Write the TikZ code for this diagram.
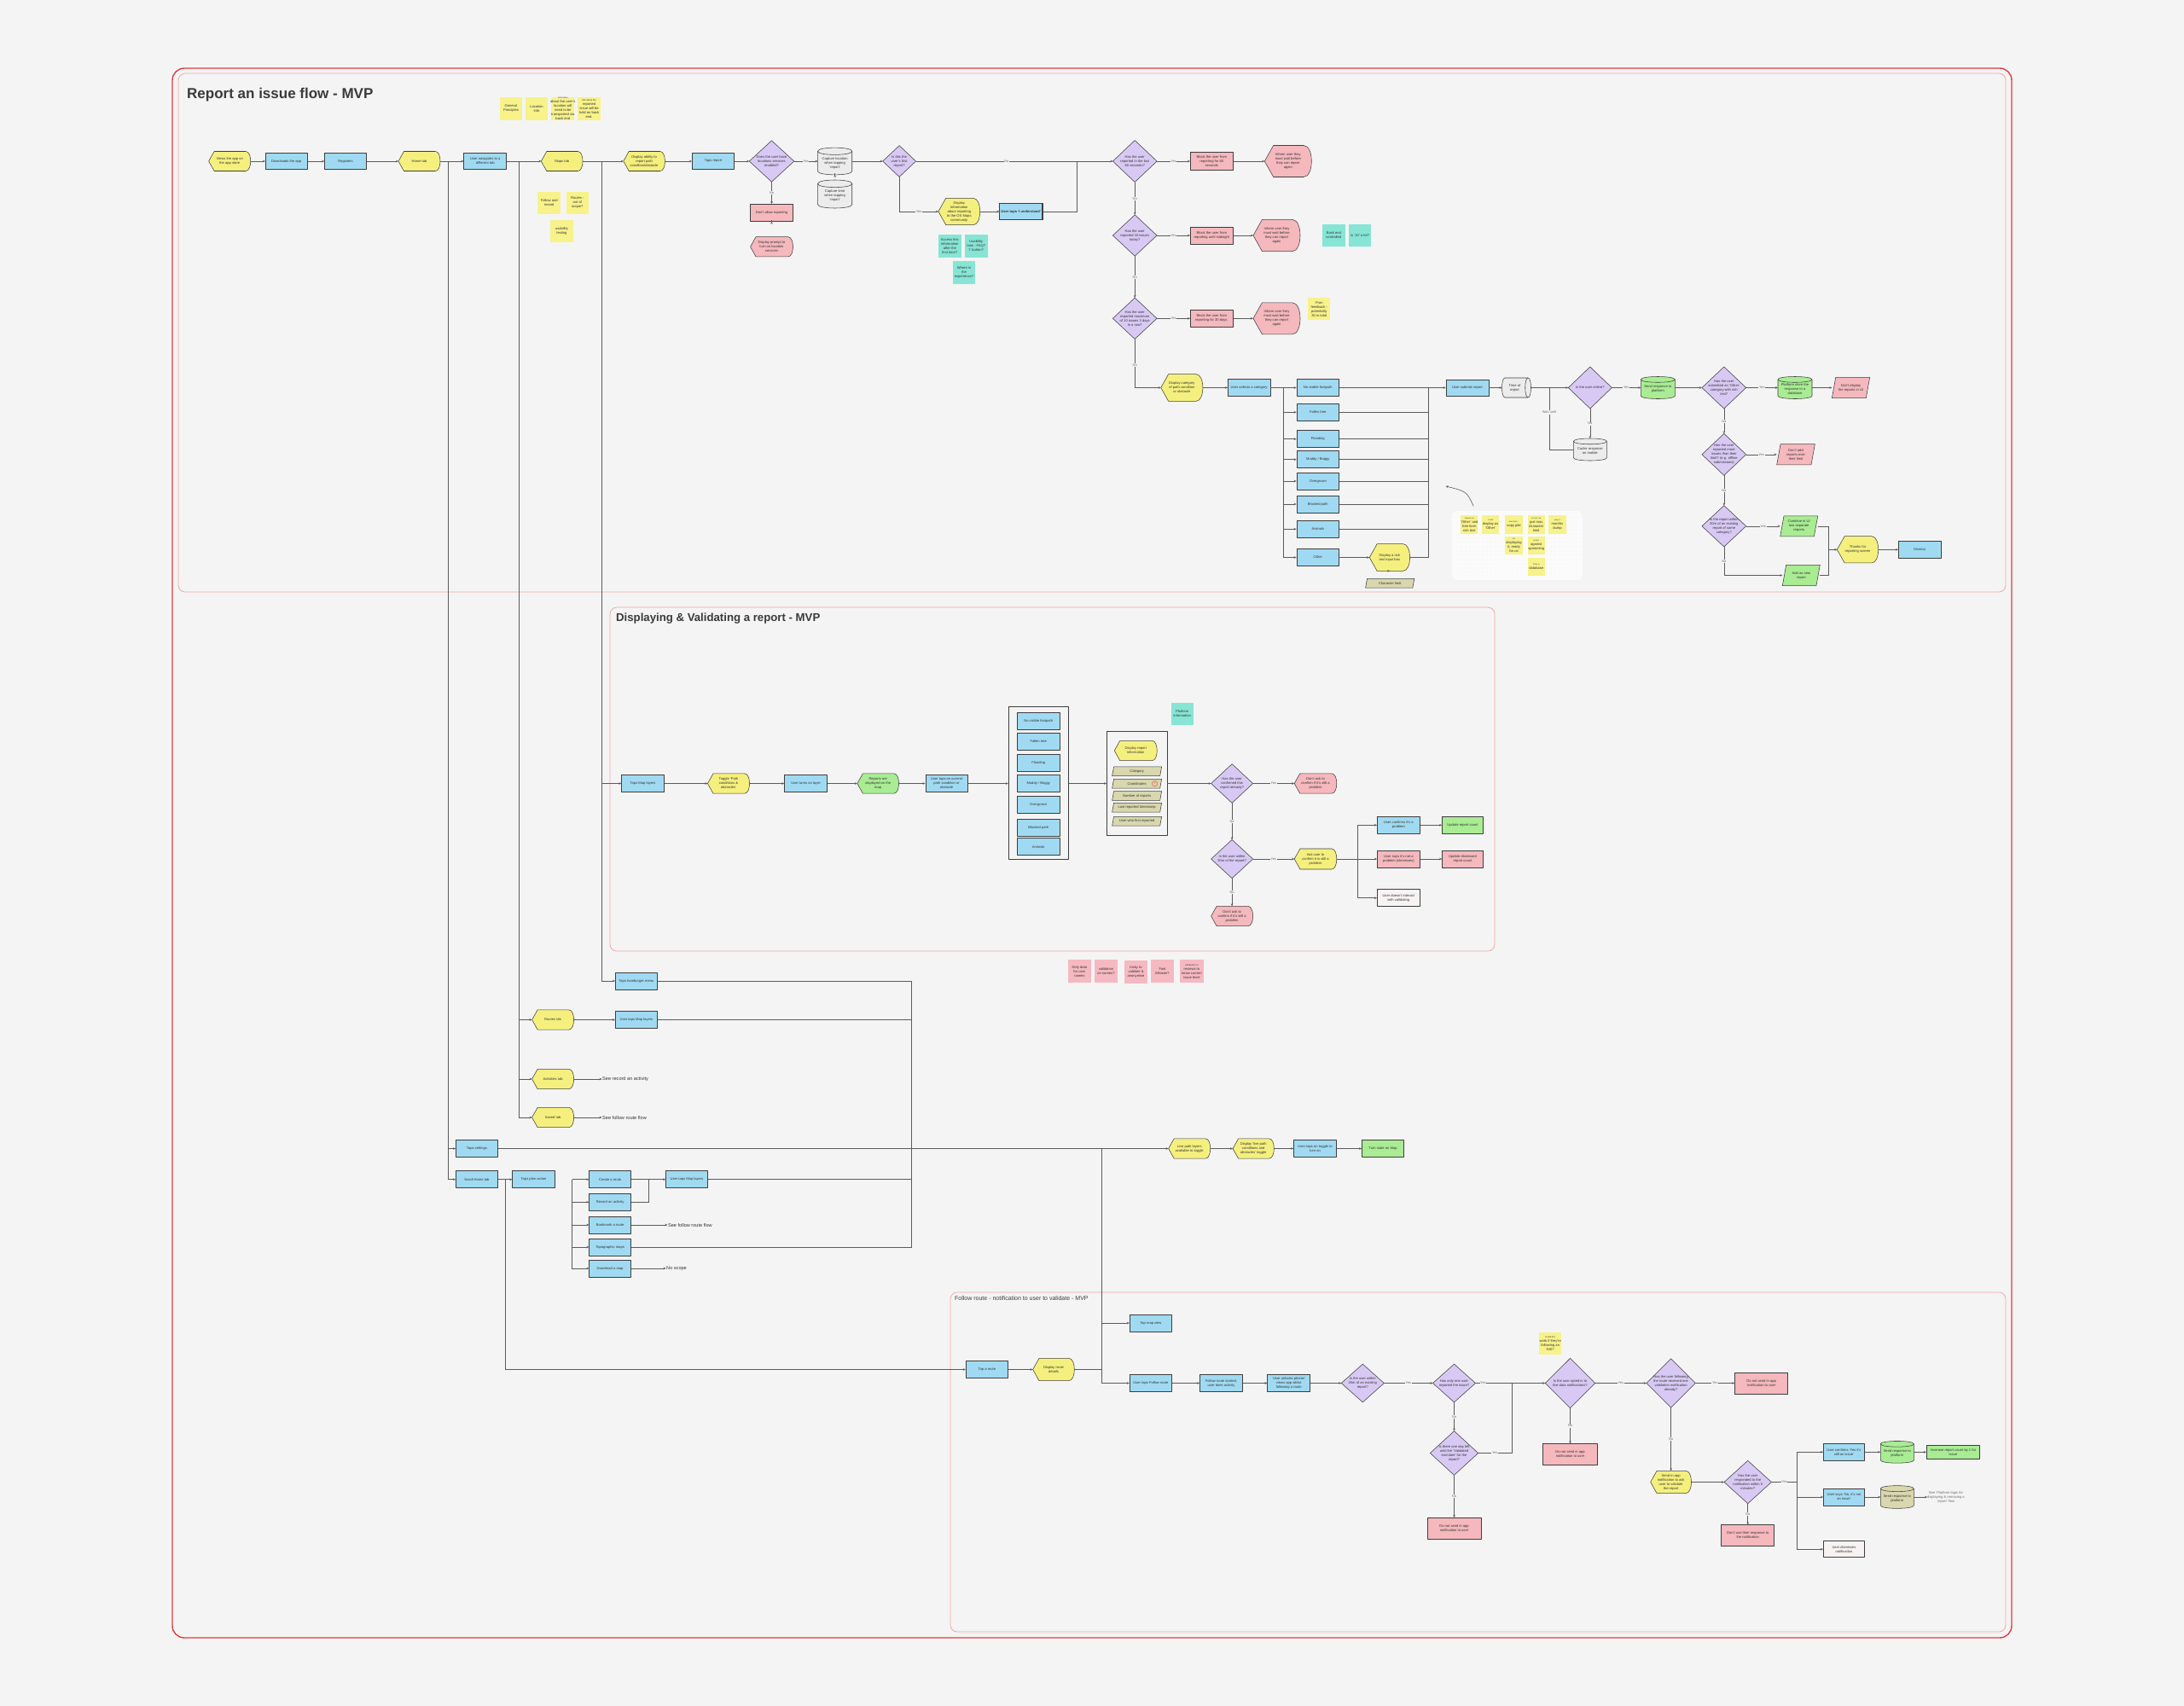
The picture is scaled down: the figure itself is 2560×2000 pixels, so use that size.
\documentclass[tikz,border=0pt]{standalone}
\usepackage{fontspec}
\setmainfont{Liberation Sans}
\usetikzlibrary{arrows.meta}
\hyphenpenalty=10000
\definecolor{bgc}{HTML}{F4F4F4}
\definecolor{bl}{HTML}{A0DAF2}
\definecolor{ye}{HTML}{F5F07E}
\definecolor{pu}{HTML}{D8C9F4}
\definecolor{pk}{HTML}{F5B8BD}
\definecolor{gr}{HTML}{A9EC93}
\definecolor{ol}{HTML}{D8D7AD}
\definecolor{te}{HTML}{86E5D5}
\definecolor{sty}{HTML}{F7F28A}
\definecolor{stp}{HTML}{F6B9C1}
\definecolor{gy}{HTML}{ECECEC}
\definecolor{wh}{HTML}{F7F3F3}
\definecolor{sc}{HTML}{3E3E3E}
\definecolor{lc}{HTML}{5A5A5A}
\definecolor{txc}{HTML}{333333}
\definecolor{labc}{HTML}{707070}
\definecolor{redc}{HTML}{E63B3E}
\definecolor{pinkf}{HTML}{F2A6AA}
\definecolor{titc}{HTML}{3A3A3A}
\tikzset{
  outl/.style={draw=sc, line width=0.55pt, line join=round},
  anch/.style={rectangle, draw=none, fill=none, inner sep=0pt, outer sep=0pt},
  txt/.style={font=\fontsize{4.1}{5}\selectfont, text=txc, align=center, inner sep=0pt},
  ln/.style={draw=lc, line width=0.6pt, -{Stealth[length=3pt,width=2.6pt]}},
  lnn/.style={draw=lc, line width=0.6pt},
  lab/.style={font=\fontsize{4}{4.5}\selectfont, text=labc, fill=bgc, inner sep=0.6pt},
  side/.style={font=\fontsize{5.6}{6.5}\selectfont, text=txc, anchor=west, inner sep=0.5pt},
  frame/.style={draw=pinkf, line width=0.8pt, rounded corners=8pt},
}
\newcommand\mkRect[6]{%
  \node[rectangle, outl, fill=#1, inner sep=0pt, minimum width=#4pt, minimum height=#5pt] (#2) at (#3) {};
  \node[txt] (#2-t) at (#3) {#6};}
\newcommand\mkNote[6]{%
  \node[rectangle, fill=#1, inner sep=0pt, minimum width=#4pt, minimum height=#5pt] (#2) at (#3) {};
  \node[txt] (#2-t) at (#3) {#6};}
\newcommand\mkDisp[6]{%
  \filldraw[outl, fill=#1, shift={(#3)}] (-#4/2,0) -- (-#4/2+0.28*#5,-#5/2) -- (#4/2-0.25*#5,-#5/2) .. controls (#4/2+0.0833*#5,-#5/2) and (#4/2+0.0833*#5,#5/2) .. (#4/2-0.25*#5,#5/2) -- (-#4/2+0.28*#5,#5/2) -- cycle;
  \node[anch, minimum width=#4pt, minimum height=#5pt] (#2) at (#3) {};
  \node[txt] (#2-t) at (#3) {#6};}
\newcommand\mkDia[6]{%
  \filldraw[outl, fill=#1, shift={(#3)}] (-#4/2,0) -- (0,-#5/2) -- (#4/2,0) -- (0,#5/2) -- cycle;
  \node[anch, minimum width=#4pt, minimum height=#5pt] (#2) at (#3) {};
  \node[txt] (#2-t) at (#3) {#6};}
\newcommand\mkCyl[6]{%
  \filldraw[outl, fill=#1, shift={(#3)}] (-#4/2,-0.37*#5) -- (-#4/2,0.37*#5) .. controls (-#4/2,0.5433*#5) and (#4/2,0.5433*#5) .. (#4/2,0.37*#5) -- (#4/2,-0.37*#5) .. controls (#4/2,-0.5433*#5) and (-#4/2,-0.5433*#5) .. (-#4/2,-0.37*#5) -- cycle;
  \draw[outl, shift={(#3)}] (-#4/2,-0.37*#5) .. controls (-#4/2,-0.1967*#5) and (#4/2,-0.1967*#5) .. (#4/2,-0.37*#5);
  \node[anch, minimum width=#4pt, minimum height=#5pt] (#2) at (#3) {};
  \node[txt, yshift={-0.07*#5pt}] (#2-t) at (#3) {#6};}
\newcommand\mkHCyl[6]{%
  \filldraw[outl, fill=#1, shift={(#3)}] (-0.4*#4,-#5/2) -- (0.4*#4,-#5/2) .. controls (0.5333*#4,-#5/2) and (0.5333*#4,#5/2) .. (0.4*#4,#5/2) -- (-0.4*#4,#5/2) .. controls (-0.5333*#4,#5/2) and (-0.5333*#4,-#5/2) .. (-0.4*#4,-#5/2) -- cycle;
  \draw[outl, shift={(#3)}] (0.4*#4,-#5/2) .. controls (0.2667*#4,-#5/2) and (0.2667*#4,#5/2) .. (0.4*#4,#5/2);
  \node[anch, minimum width=#4pt, minimum height=#5pt] (#2) at (#3) {};
  \node[txt, xshift={-0.06*#4pt}] (#2-t) at (#3) {#6};}
\newcommand\mkPara[6]{%
  \filldraw[outl, fill=#1, shift={(#3)}] (-#4/2+0.18*#5,-#5/2) -- (#4/2,-#5/2) -- (#4/2-0.18*#5,#5/2) -- (-#4/2,#5/2) -- cycle;
  \node[anch, minimum width=#4pt, minimum height=#5pt] (#2) at (#3) {};
  \node[txt] (#2-t) at (#3) {#6};}
\newcommand\hcon[2]{\draw[ln] (#1.east) -- (#1.east -| #2.west);}
\newcommand\vcon[2]{\draw[ln] (#1.south) -- (#1.south -| #2.north);}
\begin{document}
\begin{tikzpicture}[x=1pt,y=-1pt]
\useasboundingbox (0,0) rectangle (2560,2000);
\fill[bgc] (0,0) rectangle (2560,2000);
\draw[draw=redc, line width=1.4pt, rounded corners=14pt] (202,80) rectangle (2358,1920);
\draw[frame] (209,86) rectangle (2351,694);
\draw[frame] (715,712) rectangle (1752,1115);
\draw[frame] (1114,1515) rectangle (2351,1913);
\node[anchor=west, font=\bfseries\fontsize{17}{19}\selectfont, text=titc, inner sep=0pt] (title1) at (219,111) {Report an issue flow - MVP};
\node[anchor=west, font=\bfseries\fontsize{13.2}{15}\selectfont, text=titc, inner sep=0pt] (title2) at (722,725) {Displaying \& Validating a report - MVP};
\node[anchor=west, font=\fontsize{7}{8}\selectfont, text=titc, inner sep=0pt] (title3) at (1119,1522) {Follow route - notification to user to validate - MVP};

% ---------- sticky notes, section 1
\mkNote{sty}{s1}{599,127.3}{26}{26.7}{General\\Principles}
\mkNote{sty}{s2}{629,127.3}{26}{26.7}{Location\\Info}
\mkNote{sty}{s3}{659.8,127.3}{26.8}{26.7}{\fontsize{2.3}{2.8}\selectfont Information\\about the user's\\location will\\need to be\\transported via\\back end}
\mkNote{sty}{s4}{690.6,127.3}{26.8}{26.7}{\fontsize{2.7}{3.3}\selectfont Info about the\\reported\\issue will be\\held on back\\end.}
\mkNote{sty}{s5}{643.7,238}{26.6}{26}{Follow and\\record}
\mkNote{sty}{s6}{676.8,238}{26.6}{26}{Routes -\\out of\\scope?}
\mkNote{sty}{s7}{658.4,271}{26.6}{26}{usability\\testing}
\mkNote{te}{t1}{1113.3,288.3}{26.7}{26.7}{Access this\\information\\after the\\first time?}
\mkNote{te}{t2}{1144.2,288.3}{26.7}{26.7}{Usability\\task - FAQ?\\`i' button?}
\mkNote{te}{t3}{1130,319.3}{26.7}{26.7}{Where in\\the\\experience?}
\mkNote{te}{t4}{1563.3,275.7}{26.7}{26}{Back end\\controlled}
\mkNote{te}{t5}{1594,275.7}{26.7}{26}{Is `10' a lot?}
\mkNote{sty}{s8}{1546.3,362.3}{26}{26}{Fran\\feedback -\\potentially\\30 in total}

% panel with dots
\fill[white!60!bgc, rounded corners=6pt] (1701.6,599) rectangle (1855,680);
\begin{scope}
\clip[rounded corners=6pt] (1701.6,599) rectangle (1855,680);
\foreach \i in {0,...,30}{\foreach \j in {0,...,16}{\fill[black!12] (1703+5*\i,601+5*\j) circle (0.3pt);}}
\end{scope}
\mkNote{sty}{p1}{1722.3,615}{20.3}{21.3}{\fontsize{2.2}{2.7}\selectfont Capture an\\`Other' and\\free form\\rich text}
\mkNote{sty}{p2}{1747.2,615}{20.3}{21.3}{\fontsize{2.2}{2.7}\selectfont Could\\display as\\`Other'}
\mkNote{sty}{p3}{1774.5,615}{20.3}{21.3}{\fontsize{2.2}{2.7}\selectfont other-form...\\copy pile}
\mkNote{sty}{p4}{1800.7,615}{20.3}{21.3}{\fontsize{2.2}{2.7}\selectfont not text, we\\just max\\character\\limit}
\mkNote{sty}{p5}{1825.4,615}{20.3}{21.3}{\fontsize{2.2}{2.7}\selectfont every 3\\months\\dump}
\mkNote{sty}{p6}{1774.5,639.7}{20.3}{21.3}{\fontsize{2.2}{2.7}\selectfont not\\displaying\\it, ready\\for us}
\mkNote{sty}{p7}{1800.7,639.7}{20.3}{21.3}{\fontsize{2.2}{2.7}\selectfont protect\\against\\spamming}
\mkNote{sty}{p8}{1800.7,664.7}{20.3}{21.3}{\fontsize{2.2}{2.7}\selectfont Store in\\database}
\coordinate (pc1) at (1727.2,593.3);
\coordinate (pc2) at (1694.6,570);
\draw[ln] (pc1) .. controls (1719,576) .. (pc2);

% ---------- section 1 nodes
\mkDisp{ye}{n1}{269.2,189}{49.1}{23}{Views the app on\\the app store}
\mkRect{bl}{n2}{335.7,189}{49.1}{19.3}{Downloads the app}
\mkRect{bl}{n3}{405,189}{49}{19.3}{Registers}
\mkDisp{ye}{n4}{491.5,189}{49}{23}{Home tab}
\mkRect{bl}{n5}{568.75,189}{50}{19.3}{User navigates to a\\different tab}
\mkDisp{ye}{n6}{658.7,189}{48.7}{23}{Maps tab}
\mkDisp{ye}{n7}{755.1,189}{48.7}{23}{Display ability to\\report path\\condition/obstacle}
\mkRect{bl}{n8}{836,189}{49.5}{19.3}{Taps report}
\mkDia{pu}{dLoc}{904.5,189}{52.5}{48.3}{Does the user have\\locations services\\enabled?}
\mkCyl{gy}{cLoc}{978.6,189}{40.3}{31.7}{Capture location\\when tapping\\`report'}
\mkCyl{gy}{cTime}{978.6,227.5}{40.3}{33}{Capture time\\when tapping\\`report'}
\mkRect{pk}{noRep}{904.5,249.3}{50}{20}{Don't allow reporting}
\mkDisp{pk}{prompt}{904.5,289.3}{50}{23.3}{Display prompt to\\turn on location\\services}
\mkDia{pu}{dFirst}{1054.1,189}{38.8}{36.7}{Is this the\\user's first\\report?}
\mkDisp{ye}{info}{1124.3,248}{48.7}{31.3}{Display\\information\\about reporting\\to the OS Maps\\community}
\mkRect{bl}{understand}{1196.7,248}{50}{19.3}{\bfseries User taps `I understand'}
\draw[sc, line width=1.1pt] (understand.north west) rectangle (understand.south east);
\mkDia{pu}{d60}{1330.2,189}{51.7}{49}{Has the user\\reported in the last\\60 seconds?}
\mkRect{pk}{b60}{1420.3,189}{50}{20.7}{Block the user from\\reporting for 60\\seconds}
\mkDisp{pk}{inf1}{1509.8,189}{55}{37}{Inform user they\\must wait before\\they can report\\again}
\mkDia{pu}{d10}{1330.2,276}{51.7}{48.3}{Has the user\\reported 10 issues\\today?}
\mkRect{pk}{bMid}{1420.3,276}{50}{20}{Block the user from\\reporting until midnight}
\mkDisp{pk}{inf2}{1496.5,276}{55}{37.3}{Inform user they\\must wait before\\they can report\\again}
\mkDia{pu}{d3}{1330.2,373.3}{51.7}{48.3}{Has the user\\reported maximum\\of 10 issues 3 days\\in a row?}
\mkRect{pk}{b30}{1420.3,373.3}{50}{20}{Block the user from\\reporting for 30 days.}
\mkDisp{pk}{inf3}{1496.5,373.3}{55}{37}{Inform user they\\must wait before\\they can report\\again}
\mkDisp{ye}{cat}{1385.3,454.5}{49.1}{31.7}{Display category\\of path condition\\or obstacle}
\mkRect{bl}{sel}{1464.1,454.5}{49.8}{20}{User selects a category}
\mkRect{bl}{c1}{1544.8,454.5}{49.8}{20}{No visible footpath}
\mkRect{bl}{c2}{1544.8,483.3}{49.8}{20}{Fallen tree}
\mkRect{bl}{c3}{1544.8,514.7}{49.8}{20}{Flooding}
\mkRect{bl}{c4}{1544.8,538.7}{49.8}{20}{Muddy / Boggy}
\mkRect{bl}{c5}{1544.8,564}{49.8}{20}{Overgrown}
\mkRect{bl}{c6}{1544.8,591}{49.8}{20}{Blocked path}
\mkRect{bl}{c7}{1544.8,620.3}{49.8}{20}{Animals}
\mkRect{bl}{c8}{1544.8,653.5}{49.8}{20}{Other}
\mkDisp{ye}{rich}{1628.9,653.5}{47.3}{31.7}{Display a rich\\text input box}
\mkPara{ol}{charlim}{1629.2,683.7}{57.2}{10.7}{Character limit}
\mkRect{bl}{submit}{1719.9,454.5}{49.8}{19.3}{User submits report}
\mkHCyl{gy}{time}{1777.5,454.5}{34}{23}{Time of\\report}
\mkDia{pu}{dOnline}{1863.8,454.5}{51}{49}{Is the user online?}
\mkCyl{gy}{cache}{1863.8,527}{39}{26}{Cache response\\on mobile}
\mkCyl{gr}{send}{1943.3,454.5}{40}{26}{Send response to\\platform}
\mkDia{pu}{dOther}{2020.8,454.5}{51.7}{49}{Has the user\\submitted an `Other'\\category with rich\\text?}
\mkCyl{gr}{store}{2104,454.5}{40}{26}{Platform store the\\response in a\\database}
\mkPara{pk}{noDisp}{2169.5,454.5}{44.3}{24.3}{Don't display\\the reports in UI}
\mkDia{pu}{dLimit}{2020.8,532.8}{51.7}{49}{Has the user\\reported more\\issues than their\\limit? (e.g. offline\\submissions)}
\mkPara{pk}{noAdd}{2105,532.8}{44.7}{24.3}{Don't add\\reports over\\their limit}
\mkDia{pu}{d20}{2020.8,616.8}{51.7}{48.3}{Is the report within\\20m of an existing\\report of same\\category?}
\mkPara{gr}{combine}{2108.7,616.8}{44}{24}{Combine in UI\\two separate\\reports}
\mkPara{gr}{addNew}{2111.3,674.5}{44}{24.3}{Add as new\\report}
\mkDisp{ye}{thanks}{2177.5,644.3}{48.3}{31.3}{Thanks for\\reporting screen}
\mkRect{bl}{dismiss}{2250.2,644.3}{49.7}{20}{Dismiss}

% ---------- section 1 connectors
\hcon{n1}{n2}
\hcon{n2}{n3}
\hcon{n3}{n4}
\hcon{n4}{n5}
\hcon{n5}{n6}
\hcon{n6}{n7}
\hcon{n7}{n8}
\hcon{n8}{dLoc}
\draw[ln] (dLoc.east) -- node[lab] (L1) {Yes} (dLoc.east -| cLoc.west);
\draw[ln] (dLoc.south) -- node[lab] (L2) {No} (dLoc.south |- noRep.north);
\vcon{noRep}{prompt}
\vcon{cLoc}{cTime}
\hcon{cLoc}{dFirst}
\draw[ln] (dFirst.east) -- node[lab, pos=0.46] (L3) {No} (dFirst.east -| d60.west);
\draw[ln] (dFirst.south) |- node[lab, pos=0.75] (L4) {Yes} (info.west);
\hcon{info}{understand}
\coordinate (jU) at (1262.7,189);
\draw[lnn] (understand.east) -| (jU);
\draw[ln] (d60.east) -- node[lab] (L5) {Yes} (d60.east -| b60.west);
\hcon{b60}{inf1}
\draw[ln] (d60.south) -- node[lab] (L6) {No} (d60.south |- d10.north);
\draw[ln] (d10.east) -- node[lab] (L7) {Yes} (d10.east -| bMid.west);
\hcon{bMid}{inf2}
\draw[ln] (d10.south) -- node[lab] (L8) {No} (d10.south |- d3.north);
\draw[ln] (d3.east) -- node[lab] (L9) {Yes} (d3.east -| b30.west);
\hcon{b30}{inf3}
\draw[ln] (d3.south) |- node[lab, pos=0.27] (L10) {No} (cat.west);
\hcon{cat}{sel}
\coordinate (jSel) at (1504.5,454.5);
\draw[lnn] (sel.east) -- (jSel);
\foreach \c in {c1,c2,c3,c4,c5,c6,c7,c8}{\draw[ln] (jSel) |- (\c.west);}
\coordinate (mTop) at (1674.3,454.5);
\coordinate (mBot) at (1674.3,653.5);
\foreach \c in {c1,c2,c3,c4,c5,c6,c7}{\draw[lnn] (\c.east) -- (\c.east -| mTop);}
\hcon{c8}{rich}
\draw[lnn] (rich.east) -- (mBot) -- (mTop);
\draw[ln] (mTop) -- (submit.west);
\vcon{rich}{charlim}
\hcon{submit}{time}
\hcon{time}{dOnline}
\draw[ln] (dOnline.east) -- node[lab] (L11) {Yes} (dOnline.east -| send.west);
\draw[ln] (dOnline.south) -- node[lab] (L12) {No} (dOnline.south |- cache.north);
\coordinate (jWait) at (1816,454.5);
\draw[lnn] (cache.west) -| node[lab, pos=0.8] (L13) {Wait until} (jWait);
\hcon{send}{dOther}
\draw[ln] (dOther.east) -- node[lab] (L14) {Yes} (dOther.east -| store.west);
\hcon{store}{noDisp}
\draw[ln] (dOther.south) -- node[lab] (L15) {No} (dOther.south |- dLimit.north);
\draw[ln] (dLimit.east) -- node[lab] (L16) {Yes} (dLimit.east -| noAdd.west);
\draw[ln] (dLimit.south) -- node[lab] (L17) {No} (dLimit.south |- d20.north);
\draw[ln] (d20.east) -- node[lab] (L18) {Yes} (d20.east -| combine.west);
\draw[ln] (d20.south) |- node[lab, pos=0.25] (L19) {No} (addNew.west);
\coordinate (jThanks) at (2143,644.3);
\draw[lnn] (combine.east) -| (jThanks);
\draw[lnn] (addNew.east) -| (jThanks);
\draw[ln] (jThanks) -- (thanks.west);
\hcon{thanks}{dismiss}

% ---------- section 2
\mkRect{bl}{mapLayers}{753.6,918.5}{50}{20}{Taps Map layers}
\mkDisp{ye}{toggle}{854,918.5}{49.1}{23.3}{Toggle `Path\\conditions \&\\obstacles'}
\mkRect{bl}{turnOn}{944.6,918.5}{50}{20}{User turns on layer}
\mkDisp{gr}{displayed}{1029.2,918.5}{48.7}{23.3}{Reports are\\displayed on the\\map}
\mkRect{bl}{tapsCurrent}{1109.6,918.5}{49.6}{20}{User taps on current\\path condition or\\obstacle}
\node[rectangle, outl, inner sep=0pt, minimum width=70.6pt, minimum height=179.4pt] (cont1) at (1217.4,918) {};
\mkRect{bl}{k1}{1217.2,845}{50.4}{20}{No visible footpath}
\mkRect{bl}{k2}{1217.2,869.3}{50.4}{20}{Fallen tree}
\mkRect{bl}{k3}{1217.2,894}{50.4}{20}{Flooding}
\mkRect{bl}{k4}{1217.2,918.3}{50.4}{20}{Muddy / Boggy}
\mkRect{bl}{k5}{1217.2,943.7}{50.4}{20}{Overgrown}
\mkRect{bl}{k6}{1217.2,970}{50.4}{20}{Blocked path}
\mkRect{bl}{k7}{1217.2,992.7}{50.4}{20}{Animals}
\node[rectangle, outl, inner sep=0pt, minimum width=70.7pt, minimum height=122.4pt] (cont2) at (1332.75,918.5) {};
\mkDisp{ye}{repInfo}{1331.25,880}{50}{23.3}{Display report\\information}
\mkPara{ol}{i1}{1332.6,904.3}{58}{10.7}{Category}
\mkPara{ol}{i2}{1332.6,918.7}{58}{10.7}{Coordinates}
\mkPara{ol}{i3}{1332.6,933}{58}{10.7}{Number of reports}
\mkPara{ol}{i4}{1332.6,946.7}{58}{10.7}{Last reported timestamp}
\mkPara{ol}{i5}{1332.6,962.8}{58}{10.7}{User who first reported}
\draw[draw=redc!80, line width=0.6pt] (1353.6,918.7) circle (3.2pt);
\node[font=\fontsize{4.5}{5}\selectfont, text=redc!80, inner sep=0pt] (qm) at (1353.6,918.9) {?};
\mkNote{te}{platInfo}{1385.7,837}{26.4}{26}{Platform\\information}
\mkDia{pu}{dConf}{1444.1,918.5}{49}{45.7}{Has the user\\confirmed this\\report already?}
\mkDisp{pk}{dontAsk1}{1542,918.5}{49.6}{23.3}{Don't ask to\\confirm if it's still a\\problem}
\mkDia{pu}{d30}{1444.1,1007}{49}{45.3}{Is the user within\\30m of the report?}
\mkDisp{ye}{ask}{1542,1007}{49.6}{24}{Ask user to\\confirm it is still a\\problem}
\mkDisp{pk}{dontAsk2}{1444.1,1074}{49}{23.3}{Don't ask to\\confirm if it's still a\\problem}
\mkRect{bl}{confirms}{1639.3,967.3}{50}{20}{User confirms it's a\\problem}
\mkRect{gr}{updCount}{1714.5,967.3}{48.2}{20}{Update report count}
\mkRect{pk}{saysNot}{1639.3,1007}{50}{20}{User says it's not a\\problem (dismisses)}
\mkRect{pk}{updDis}{1714.5,1007}{48.2}{20}{Update dismissed\\report count}
\mkRect{wh}{noInteract}{1639.3,1052.7}{50}{20}{User doesn't interact\\with validating}

\hcon{mapLayers}{toggle}
\hcon{toggle}{turnOn}
\hcon{turnOn}{displayed}
\hcon{displayed}{tapsCurrent}
\hcon{tapsCurrent}{cont1}
\draw[ln] (cont1.east |- cont2.west) -- (cont2.west);
\hcon{cont2}{dConf}
\draw[ln] (dConf.east) -- node[lab] (L20) {Yes} (dConf.east -| dontAsk1.west);
\draw[ln] (dConf.south) -- node[lab] (L21) {No} (dConf.south |- d30.north);
\draw[ln] (d30.east) -- node[lab] (L22) {Yes} (d30.east -| ask.west);
\draw[ln] (d30.south) -- node[lab] (L23) {No} (d30.south |- dontAsk2.north);
\coordinate (jAsk) at (1591.1,1007);
\draw[lnn] (ask.east) -- (jAsk);
\draw[ln] (jAsk) |- (confirms.west);
\draw[ln] (jAsk) -- (saysNot.west);
\draw[ln] (jAsk) |- (noInteract.west);
\hcon{confirms}{updCount}
\hcon{saysNot}{updDis}

% pink stickies
\mkNote{stp}{q1}{1265.4,1138.7}{27.2}{27.3}{Dirty data\\for user\\names}
\mkNote{stp}{q2}{1296.4,1138.7}{27.2}{27.3}{validation\\on names?}
\mkNote{stp}{q3}{1331.5,1139.7}{27.2}{27.3}{tricky to\\validate \&\\anonymise}
\mkNote{stp}{q4}{1362.5,1138.7}{27.2}{27.3}{Fast\\follower?}
\mkNote{stp}{q5}{1396.9,1138.7}{27.2}{27.3}{\fontsize{2.6}{3.2}\selectfont Attribution on\\reviews to\\know current\\issue level}

% ---------- lower left
\mkRect{bl}{hamburger}{745.9,1150}{49.4}{20}{Taps hamburger menu}
\mkDisp{ye}{routesTab}{648.1,1195.5}{49}{23.3}{Routes tab}
\mkRect{bl}{mapLayers2}{745.9,1195.5}{49.4}{20}{User taps Map layers}
\mkDisp{ye}{actTab}{648.1,1265}{49}{23.3}{Activities tab}
\node[side] (seeRec) at (705.5,1265) {See record an activity};
\mkDisp{ye}{savedTab}{648.1,1310}{49}{23.3}{Saved tab}
\node[side] (seeFollow1) at (705.5,1310) {See follow route flow};
\mkRect{bl}{settings}{558.9,1346.5}{49}{20}{Taps settings}
\mkRect{bl}{scroll}{558.9,1382.7}{49}{20}{Scroll Home tab}
\mkRect{bl}{plan}{625.5,1382.7}{49.8}{20}{Taps plan action}
\mkRect{bl}{create}{715.1,1382.7}{49}{20}{Create a route}
\mkRect{bl}{record}{715.1,1409.3}{49}{20}{Record an activity}
\mkRect{bl}{bookmark}{715.1,1436}{49}{20}{Bookmark a route}
\mkRect{bl}{topo}{715.1,1462}{49}{20}{Topographic maps}
\mkRect{bl}{download}{715.1,1487}{49}{20}{Download a map}
\mkRect{bl}{mapLayers3}{805,1382.7}{49}{20}{User taps Map layers}
\node[side] (seeFollow2) at (782.4,1436) {See follow route flow};
\node[side] (noScope) at (780.5,1487) {No scope};
\mkDisp{ye}{live}{1394.2,1346.5}{49.1}{23.3}{Live path layers\\available to toggle}
\mkDisp{ye}{liveToggle}{1469.2,1346.5}{48.3}{23.3}{Display `live path\\conditions and\\obstacles' toggle}
\mkRect{bl}{tapToggle}{1541.5,1346.5}{50}{20}{User taps on toggle to\\turn on}
\mkRect{gr}{turnState}{1621,1346.5}{49.1}{20}{Turn state on Map}

\coordinate (jHome) at (525,189);
\draw[ln] (jHome) |- (settings.west);
\draw[ln] (jHome) |- (scroll.west);
\coordinate (jUser) at (608.5,189);
\draw[ln] (jUser) |- (routesTab.west);
\draw[ln] (jUser) |- (actTab.west);
\draw[ln] (jUser) |- (savedTab.west);
\coordinate (jMaps) at (705.4,189);
\draw[ln] (jMaps) |- (mapLayers.west);
\draw[ln] (jMaps) |- (hamburger.west);
\coordinate (jR) at (1068.3,1346.5);
\draw[lnn] (hamburger.east) -| (jR);
\draw[lnn] (mapLayers2.east) -- (mapLayers2.east -| jR);
\draw[lnn] (mapLayers3.east) -- (mapLayers3.east -| jR);
\draw[lnn] (topo.east) -| (jR);
\hcon{routesTab}{mapLayers2}
\draw[ln] (actTab.east) -- (seeRec.west);
\draw[ln] (savedTab.east) -- (seeFollow1.west);
\draw[ln] (settings.east) -- (settings.east -| live.west);
\hcon{scroll}{plan}
\coordinate (jScroll) at (591.8,1382.7);
\coordinate (jPlan) at (670.7,1382.7);
\draw[ln] (jPlan) -- (create.west);
\draw[ln] (jPlan) |- (record.west);
\draw[ln] (jPlan) |- (bookmark.west);
\draw[ln] (jPlan) |- (topo.west);
\draw[ln] (jPlan) |- (download.west);
\hcon{create}{mapLayers3}
\coordinate (jRec) at (760.2,1382.7);
\draw[lnn] (record.east) -| (jRec);
\draw[ln] (bookmark.east) -- (seeFollow2.west);
\draw[ln] (download.east) -- (noScope.west);
\hcon{live}{liveToggle}
\hcon{liveToggle}{tapToggle}
\hcon{tapToggle}{turnState}

% ---------- section 3
\mkRect{bl}{tapRoute}{1156.9,1605.5}{49.6}{20}{Tap a route}
\mkDisp{ye}{routeDet}{1235,1605.5}{48.7}{26.3}{Display route\\details}
\mkRect{bl}{mapView}{1348.9,1551}{49.6}{20}{Tap map view}
\mkRect{bl}{follow}{1348.9,1621.5}{49.6}{20}{User taps Follow route}
\mkRect{bl}{started}{1431.5,1621.5}{50.4}{20}{Follow route started,\\user does activity}
\mkRect{bl}{unlock}{1510.7,1621.5}{50}{20}{User unlocks phone/\\views app whilst\\following a route}
\mkDia{pu}{dExist}{1597.3,1621.5}{50}{44.7}{Is the user within\\20m of an existing\\report?}
\mkDia{pu}{dOne}{1704.5,1621.5}{50}{44.7}{Has only one user\\reported the issue?}
\mkDia{pu}{dDay}{1704.5,1703.5}{56.3}{51.7}{Is there one day left\\until the `Validated\\end date' for the\\report?}
\mkRect{pk}{noSend1}{1704.5,1791.7}{63.4}{24.7}{Do not send in app\\notification to user}
\mkNote{sty}{nsi}{1817.2,1574.7}{26.4}{26}{\fontsize{2.6}{3.2}\selectfont Could this\\work if they're\\following an\\NSI?}
\mkDia{pu}{dOpt}{1840.5,1621.5}{58.6}{58.3}{Is the user opted in to\\live data notifications?}
\mkRect{pk}{noSend2}{1840.5,1705}{63.5}{24.7}{Do not send in app\\notification to user}
\mkDia{pu}{dRecv}{1958.6,1621.5}{57.4}{57.3}{Has the user following\\the route received one\\validation notification\\already?}
\mkRect{pk}{noSend3}{2064.6,1621.5}{62}{24.7}{Do not send in app\\notification to user}
\mkDisp{ye}{sendApp}{1958.6,1737.5}{47.8}{26.3}{Send in app\\notification to ask\\user to validate\\the report}
\mkDia{pu}{dResp}{2048.7,1737.5}{55.5}{50.3}{Has the user\\responded to the\\notification within 5\\minutes?}
\mkRect{pk}{dontUse}{2048.7,1800}{62}{24.7}{Don't use their response to\\the notification}
\mkRect{bl}{yesIssue}{2161.4,1702.3}{48.2}{19.7}{User confirms `Yes it's\\still an issue'}
\mkCyl{gr}{sendG}{2223.8,1702.3}{39}{25.7}{Send response to\\platform}
\mkRect{gr}{increase}{2289.4,1702.3}{62.4}{16.7}{Increase report count by 1 for\\issue}
\mkRect{bl}{noIssue}{2161.4,1755}{48.2}{20}{User says `No, it's not\\an issue'}
\mkCyl{ol}{sendO}{2223.8,1755}{39}{26.7}{Send response to\\platform}
\node[txt, anchor=west, text=labc] (seePlat) at (2259,1755) {See `Platform logic for\\displaying \& removing a\\report' flow};
\mkRect{wh}{dismissN}{2161.4,1816.2}{48.2}{19}{User dismisses\\notification}

\coordinate (jScrollEnd) at (591.8,1605.5);
\draw[lnn] (jScroll) -- (jScrollEnd);
\draw[ln] (jScrollEnd) -- (tapRoute.west);
\hcon{tapRoute}{routeDet}
\coordinate (jSet2) at (1291.5,1346.5);
\draw[ln] (jSet2) |- (follow.west);
\draw[ln] (jSet2) |- (mapView.west);
\draw[lnn] (routeDet.east) -- (routeDet.east -| jSet2);
\hcon{follow}{started}
\hcon{started}{unlock}
\hcon{unlock}{dExist}
\draw[ln] (dExist.east) -- node[lab] (L24) {Yes} (dExist.east -| dOne.west);
\draw[ln] (dOne.east) -- node[lab, pos=0.11] (L25) {Yes} (dOne.east -| dOpt.west);
\coordinate (jOne) at (1771.9,1621.5);
\draw[ln] (dOne.south) -- node[lab] (L26) {No} (dOne.south |- dDay.north);
\draw[lnn] (dDay.east) -| node[lab, pos=0.25] (L27) {Yes} (jOne);
\draw[ln] (dDay.south) -- node[lab] (L28) {No} (dDay.south |- noSend1.north);
\draw[ln] (dOpt.east) -- node[lab] (L29) {Yes} (dOpt.east -| dRecv.west);
\draw[ln] (dOpt.south) -- node[lab] (L30) {No} (dOpt.south |- noSend2.north);
\draw[ln] (dRecv.east) -- node[lab] (L31) {Yes} (dRecv.east -| noSend3.west);
\draw[ln] (dRecv.south) -- node[lab] (L32) {No} (dRecv.south |- sendApp.north);
\hcon{sendApp}{dResp}
\coordinate (jResp) at (2106.7,1737.5);
\draw[lnn] (dResp.east) -- node[lab] (L33) {Yes} (jResp);
\draw[ln] (jResp) |- (yesIssue.west);
\draw[ln] (jResp) |- (noIssue.west);
\draw[ln] (jResp) |- (dismissN.west);
\draw[ln] (dResp.south) -- node[lab] (L34) {No} (dResp.south |- dontUse.north);
\hcon{yesIssue}{sendG}
\hcon{sendG}{increase}
\hcon{noIssue}{sendO}
\draw[ln] (sendO.east) -- (seePlat.west);
\end{tikzpicture}
\end{document}
